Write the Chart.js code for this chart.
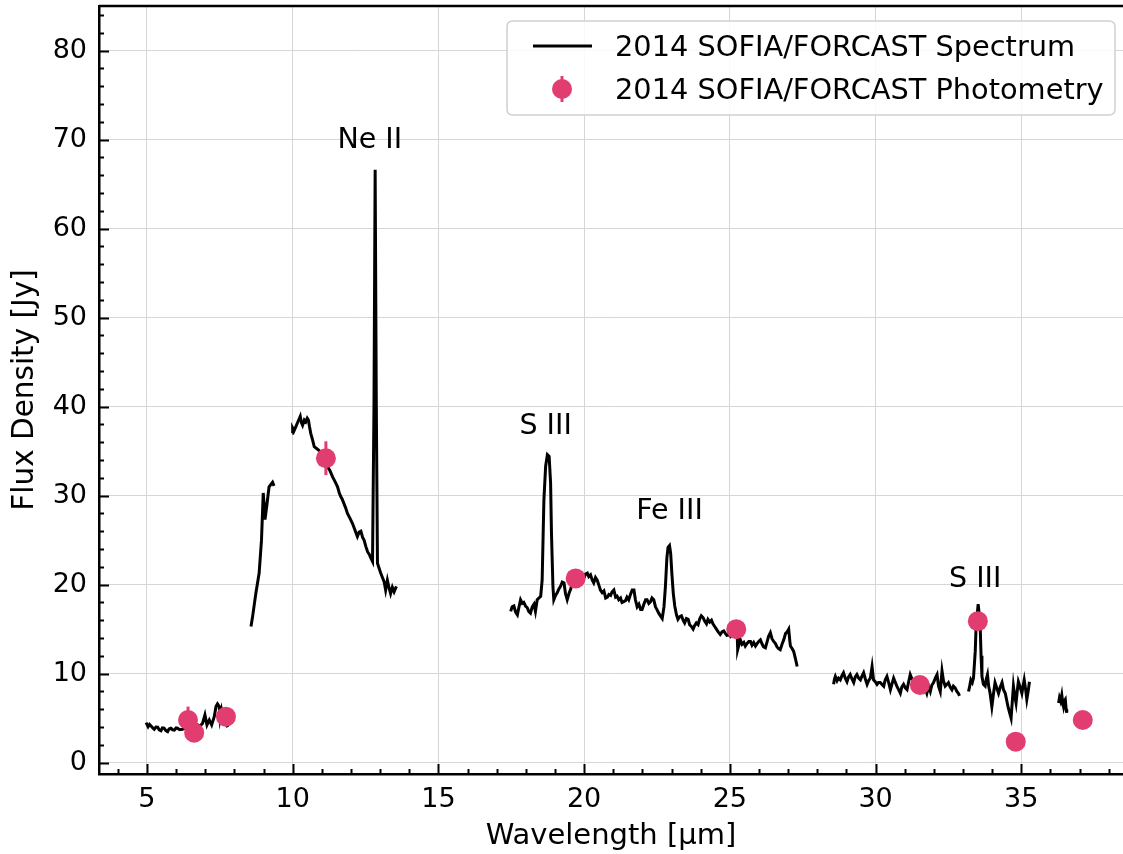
<!DOCTYPE html>
<html><head><meta charset="utf-8">
<script src="https://cdn.jsdelivr.net/npm/chart.js@4"></script>
<style>html,body{margin:0;padding:0;background:#fff;}canvas{display:block;}</style>
</head><body>
<canvas id="c" width="1123" height="854"></canvas>
<script>
// ---- spectrum segments: [wavelength (um), flux (Jy)] ----
const spectrumSeg1 = [[4.97,4.5],[5.04,4.05],[5.09,4.3],[5.14,4.12],[5.2,3.9],[5.25,3.75],[5.31,4.0],[5.37,3.98],[5.42,3.7],[5.48,3.6],[5.53,3.9],[5.59,3.87],[5.65,3.6],[5.71,3.48],[5.76,3.8],[5.82,3.87],[5.88,3.7],[5.94,3.67],[6.0,3.9],[6.05,3.87],[6.12,3.7],[6.22,3.75],[6.3,3.9],[6.4,3.8],[6.51,4.05],[6.6,4.0],[6.74,4.24],[6.82,4.1],[6.91,4.43],[6.99,5.36],[7.06,4.24],[7.14,4.8],[7.22,4.24],[7.31,5.17],[7.37,6.3],[7.42,6.6],[7.48,6.3],[7.51,5.0],[7.56,5.92],[7.63,4.8],[7.71,4.43],[7.77,3.98]];
const spectrumSeg2 = [[8.57,15.3],[8.62,16.3],[8.74,19.1],[8.85,21.3],[8.93,25.0],[8.99,30.3],[9.02,29.0],[9.05,27.3],[9.11,28.8],[9.19,31.0],[9.31,31.5],[9.36,31.1]];
const spectrumSeg3 = [[9.99,37.0],[10.0,37.6],[10.05,37.3],[10.11,37.75],[10.18,38.3],[10.26,38.9],[10.3,38.2],[10.34,37.9],[10.4,38.5],[10.45,38.3],[10.5,38.7],[10.54,38.5],[10.58,37.7],[10.62,37.0],[10.68,36.3],[10.74,35.5],[10.82,35.3],[10.9,35.1],[10.97,34.8],[11.08,34.0],[11.19,33.3],[11.28,32.8],[11.37,32.1],[11.45,31.6],[11.54,31.0],[11.6,30.3],[11.65,29.9],[11.7,29.6],[11.76,29.1],[11.82,28.6],[11.88,28.0],[11.96,27.5],[12.05,26.9],[12.13,26.2],[12.22,25.4],[12.28,25.9],[12.34,26.0],[12.4,25.3],[12.45,25.0],[12.51,24.3],[12.57,23.7],[12.63,23.4],[12.68,23.0],[12.74,22.6],[12.79,40.0],[12.83,66.6],[12.87,40.0],[12.91,22.4],[12.96,21.9],[13.02,21.3],[13.08,20.8],[13.14,20.3],[13.19,19.4],[13.25,20.5],[13.31,19.6],[13.36,19.0],[13.42,19.7],[13.48,19.2],[13.56,19.8]];
const spectrumSeg4 = [[17.48,17.0],[17.53,17.5],[17.59,17.6],[17.65,16.9],[17.71,16.6],[17.76,17.4],[17.82,18.3],[17.88,17.9],[17.93,18.0],[17.99,17.6],[18.05,17.4],[18.1,17.0],[18.16,16.8],[18.22,17.5],[18.28,17.8],[18.33,17.0],[18.39,18.3],[18.45,18.5],[18.51,18.7],[18.56,20.5],[18.62,29.5],[18.68,33.3],[18.74,34.6],[18.8,34.4],[18.85,31.4],[18.88,25.8],[18.93,19.8],[18.96,18.3],[19.02,18.8],[19.08,19.1],[19.13,19.5],[19.19,19.8],[19.25,20.3],[19.31,20.2],[19.36,19.0],[19.42,18.3],[19.48,19.0],[19.54,19.5],[19.6,20.3],[19.71,20.9],[19.8,21.1],[19.9,21.0],[20.0,20.8],[20.05,21.2],[20.11,21.3],[20.16,20.9],[20.22,21.1],[20.28,20.5],[20.33,20.2],[20.39,20.8],[20.45,20.5],[20.5,20.0],[20.56,19.4],[20.62,19.1],[20.68,19.3],[20.74,18.5],[20.8,18.6],[20.85,18.9],[20.91,18.8],[20.96,19.2],[21.02,19.4],[21.08,18.6],[21.13,18.7],[21.19,18.3],[21.25,18.5],[21.3,18.0],[21.36,18.1],[21.42,18.2],[21.47,18.6],[21.53,18.3],[21.59,18.9],[21.65,19.4],[21.71,19.4],[21.76,18.3],[21.82,17.5],[21.88,17.8],[21.94,17.2],[21.99,17.2],[22.05,17.8],[22.11,18.3],[22.16,18.3],[22.22,17.9],[22.28,18.1],[22.33,18.5],[22.39,18.3],[22.45,17.5],[22.5,17.2],[22.56,16.8],[22.62,16.5],[22.68,16.2],[22.74,17.5],[22.79,19.8],[22.84,23.0],[22.88,24.2],[22.93,24.4],[22.97,23.5],[23.01,21.3],[23.06,19.0],[23.11,17.6],[23.17,16.6],[23.22,16.1],[23.28,16.4],[23.34,16.5],[23.4,16.0],[23.45,15.7],[23.51,16.2],[23.57,16.1],[23.62,15.5],[23.68,15.3],[23.74,15.0],[23.79,15.4],[23.85,15.7],[23.91,15.5],[23.97,16.2],[24.02,16.5],[24.08,16.3],[24.14,15.9],[24.2,15.6],[24.25,16.1],[24.31,15.8],[24.37,16.0],[24.42,15.6],[24.48,15.3],[24.54,15.0],[24.6,14.7],[24.67,14.4],[24.73,14.7],[24.79,14.8],[24.85,14.5],[24.9,14.3],[24.96,14.4],[25.02,14.2],[25.08,14.5],[25.14,14.7],[25.2,14.6],[25.25,14.6],[25.27,12.7],[25.31,13.2],[25.36,13.8],[25.42,13.3],[25.48,13.5],[25.53,13.1],[25.59,13.4],[25.65,13.6],[25.71,13.6],[25.76,13.2],[25.82,13.5],[25.88,13.1],[25.94,13.4],[25.99,13.6],[26.05,13.8],[26.11,13.3],[26.16,13.0],[26.22,12.9],[26.28,13.6],[26.33,14.2],[26.39,14.6],[26.45,13.9],[26.51,13.6],[26.56,13.4],[26.62,13.0],[26.68,12.8],[26.73,12.7],[26.79,13.3],[26.85,13.8],[26.91,14.5],[26.97,14.7],[27.02,15.0],[27.06,13.6],[27.08,13.1],[27.14,12.8],[27.19,12.5],[27.25,11.7],[27.31,10.8]];
const spectrumSeg5a = [[28.56,8.8],[28.59,9.4],[28.62,9.7],[28.68,9.2],[28.73,9.5],[28.79,9.3],[28.85,9.8],[28.9,10.1],[28.96,9.5],[29.02,9.1],[29.07,9.6],[29.13,9.9],[29.19,9.4],[29.25,9.0],[29.3,9.6],[29.36,9.9],[29.42,9.5],[29.48,9.3],[29.53,9.7],[29.59,10.1],[29.65,9.4],[29.71,8.8],[29.76,9.2],[29.82,9.5],[29.88,10.8],[29.93,9.3],[29.99,9.1],[30.05,8.8],[30.1,9.0],[30.16,9.0],[30.22,8.8],[30.28,8.6],[30.33,9.3],[30.39,9.7],[30.45,9.0],[30.51,8.2],[30.56,8.8],[30.62,9.5],[30.68,9.0],[30.73,8.6],[30.79,8.2],[30.85,7.8],[30.9,8.5],[30.96,8.8],[31.02,8.4],[31.08,8.2],[31.13,9.0],[31.19,9.9],[31.25,9.4],[31.3,9.3],[31.36,8.6],[31.42,8.3],[31.48,8.5],[31.53,8.8],[31.59,8.3],[31.65,8.0],[31.7,8.4],[31.76,7.8],[31.82,8.6],[31.88,8.0],[31.93,8.7],[31.99,9.0],[32.05,9.5],[32.11,9.9],[32.16,8.6],[32.22,8.0],[32.28,10.3],[32.33,9.2],[32.39,8.6],[32.45,8.8],[32.5,9.0],[32.56,8.5],[32.62,8.2],[32.67,8.6],[32.73,8.4],[32.79,8.0],[32.84,7.8],[32.88,7.5]];
const spectrumSeg5b = [[33.19,8.0],[33.23,8.6],[33.27,9.3],[33.32,9.0],[33.36,9.5],[33.42,12.5],[33.45,15.3],[33.52,17.8],[33.57,16.3],[33.59,15.3],[33.62,12.0],[33.65,9.7],[33.7,8.8],[33.76,8.6],[33.8,9.4],[33.84,9.9],[33.88,8.6],[33.93,7.8],[33.99,6.3],[34.04,7.6],[34.1,9.0],[34.16,8.4],[34.22,7.8],[34.28,8.5],[34.34,9.0],[34.39,8.2],[34.45,7.8],[34.55,6.2],[34.65,5.0],[34.69,6.8],[34.73,8.6],[34.77,7.6],[34.82,6.7],[34.86,8.0],[34.9,9.1],[34.96,8.5],[35.02,7.8],[35.06,8.6],[35.1,9.3],[35.15,8.2],[35.19,7.1],[35.24,8.1],[35.28,9.1]];
const spectrumSeg6 = [[36.28,6.7],[36.31,7.3],[36.35,6.9],[36.39,7.6],[36.42,6.8],[36.45,6.3],[36.49,7.0],[36.51,7.1],[36.54,6.0],[36.56,5.6]];

// ---- photometry ----
const photWave = [6.41, 6.62, 7.71, 11.14, 19.71, 25.22, 31.52, 33.51, 34.81, 37.11];
const photFlux = [4.8, 3.37, 5.17, 34.2, 20.7, 15.0, 8.73, 15.9, 2.36, 4.8];
const photErr  = [1.5, 0.8, 1.0, 1.9, 0.9, 0.8, 0.6, 1.0, 0.3, 0.5];

// ---- line annotations ----
const lineNames = ['Ne II', 'S III', 'Fe III', 'S III'];
const lineWave  = [12.645, 18.68, 22.93, 33.42];
const lineFlux  = [70.2, 38.1, 28.6, 20.9];

const seriesLabels = ['2014 SOFIA/FORCAST Spectrum', '2014 SOFIA/FORCAST Photometry'];
const yTickStep = 10, xTickStep = 5;

const FONT = "'DejaVu Sans', sans-serif";
const PINK = '#e23d70';

const spectrumData = [];
[spectrumSeg1, spectrumSeg2, spectrumSeg3, spectrumSeg4, spectrumSeg5a, spectrumSeg5b, spectrumSeg6].forEach((seg, i, all) => {
  seg.forEach(p => spectrumData.push({x: p[0], y: p[1]}));
  if (i < all.length - 1) spectrumData.push({x: (seg[seg.length-1][0] + all[i+1][0][0]) / 2, y: null});
});
const photData = photWave.map((w, i) => ({x: w, y: photFlux[i]}));

const decor = {
  id: 'decor',
  afterDatasetsDraw(chart) {
    const {ctx, scales: {x, y}} = chart;
    ctx.save();
    ctx.strokeStyle = PINK; ctx.lineWidth = 3;
    photWave.forEach((w, i) => {
      const px = x.getPixelForValue(w);
      ctx.beginPath();
      ctx.moveTo(px, y.getPixelForValue(photFlux[i] - photErr[i]));
      ctx.lineTo(px, y.getPixelForValue(photFlux[i] + photErr[i]));
      ctx.stroke();
    });
    ctx.restore();
  },
  afterDraw(chart) {
    const {ctx, chartArea: a, scales: {x, y}} = chart;
    ctx.save();
    ctx.strokeStyle = '#000'; ctx.lineWidth = 2;
    for (let v = Math.ceil(x.min); v <= x.max; v++) {
      const px = Math.round(x.getPixelForValue(v)) + 0.5;
      const len = v % xTickStep === 0 ? 10 : 5;
      ctx.beginPath(); ctx.moveTo(px, a.bottom); ctx.lineTo(px, a.bottom - len); ctx.stroke();
    }
    for (let v = Math.ceil(y.min / 2) * 2; v <= y.max; v += 2) {
      const py = Math.round(y.getPixelForValue(v)) + 0.5;
      const len = v % yTickStep === 0 ? 10 : 5;
      ctx.beginPath(); ctx.moveTo(a.left, py); ctx.lineTo(a.left + len, py); ctx.stroke();
    }
    // top spine
    ctx.lineWidth = 2.5;
    ctx.beginPath(); ctx.moveTo(a.left, a.top); ctx.lineTo(a.right, a.top); ctx.stroke();

    // annotations
    ctx.fillStyle = '#000';
    ctx.font = '28.5px ' + FONT;
    ctx.textAlign = 'center'; ctx.textBaseline = 'alphabetic';
    lineNames.forEach((t, i) => {
      ctx.fillText(t, x.getPixelForValue(lineWave[i]), y.getPixelForValue(lineFlux[i]) + 10.5);
    });

    // legend
    const L = 507, T = 21, R = 1115, B = 115, r = 6;
    ctx.beginPath();
    ctx.moveTo(L + r, T); ctx.lineTo(R - r, T); ctx.quadraticCurveTo(R, T, R, T + r);
    ctx.lineTo(R, B - r); ctx.quadraticCurveTo(R, B, R - r, B);
    ctx.lineTo(L + r, B); ctx.quadraticCurveTo(L, B, L, B - r);
    ctx.lineTo(L, T + r); ctx.quadraticCurveTo(L, T, L + r, T); ctx.closePath();
    ctx.fillStyle = 'rgba(255,255,255,0.85)'; ctx.fill();
    ctx.strokeStyle = '#d0d0d0'; ctx.lineWidth = 1.5; ctx.stroke();

    ctx.strokeStyle = '#000'; ctx.lineWidth = 3;
    ctx.beginPath(); ctx.moveTo(533, 46); ctx.lineTo(592, 46); ctx.stroke();
    ctx.fillStyle = PINK;
    ctx.beginPath(); ctx.arc(562, 89, 10, 0, Math.PI * 2); ctx.fill();
    ctx.strokeStyle = PINK; ctx.lineWidth = 3;
    ctx.beginPath(); ctx.moveTo(562, 76); ctx.lineTo(562, 102); ctx.stroke();

    ctx.fillStyle = '#000'; ctx.textAlign = 'left';
    ctx.font = '28.8px ' + FONT;
    ctx.fillText(seriesLabels[0], 615, 56);
    ctx.fillText(seriesLabels[1], 615, 99);
    ctx.restore();
  }
};

const noPad = s => { s.paddingTop = 0; s.paddingBottom = 0; s.paddingLeft = 0; s.paddingRight = 0; };

new Chart(document.getElementById('c'), {
  type: 'scatter',
  data: {
    datasets: [
      { type: 'line', label: seriesLabels[0], data: spectrumData, borderColor: '#000', borderWidth: 3,
        pointRadius: 0, tension: 0, spanGaps: false, fill: false, order: 2 },
      { type: 'scatter', label: seriesLabels[1], data: photData, backgroundColor: PINK, borderWidth: 0,
        pointRadius: 10, pointHoverRadius: 10, order: 1 }
    ]
  },
  options: {
    responsive: false, animation: false, devicePixelRatio: 1,
    layout: { autoPadding: false, padding: { top: 6, right: 0, left: 0, bottom: 0 } },
    plugins: { legend: { display: false }, tooltip: { enabled: false } },
    scales: {
      x: {
        type: 'linear', min: 3.355, max: 38.49,
        afterFit: s => { s.height = 80; noPad(s); },
        ticks: { stepSize: xTickStep, includeBounds: false, autoSkip: false, color: '#000', padding: 10,
                 font: { family: FONT, size: 27 } },
        grid: { color: '#d6d6d6', lineWidth: 1, drawTicks: false },
        border: { display: true, color: '#000', width: 2.5 },
        title: { display: true, text: 'Wavelength [μm]', color: '#000', font: { family: FONT, size: 29 }, padding: 0 }
      },
      y: {
        type: 'linear', min: -1.27, max: 85,
        afterFit: s => { s.width = 99; noPad(s); },
        ticks: { stepSize: yTickStep, includeBounds: false, autoSkip: false, color: '#000', padding: 12,
                 font: { family: FONT, size: 27 } },
        grid: { color: '#d6d6d6', lineWidth: 1, drawTicks: false },
        border: { display: true, color: '#000', width: 2.5 },
        title: { display: true, text: 'Flux Density [Jy]', color: '#000', font: { family: FONT, size: 29.5 }, padding: { top: 8, bottom: 0 } }
      }
    }
  },
  plugins: [decor]
});
</script>
</body></html>
